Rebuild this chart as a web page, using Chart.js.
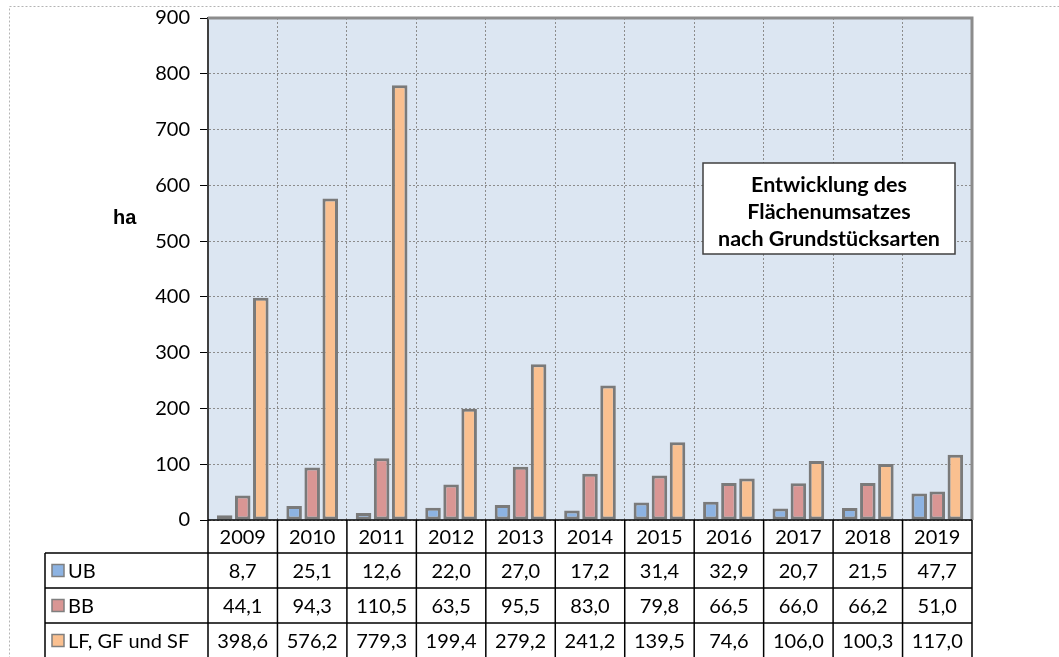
<!DOCTYPE html>
<html>
<head>
<meta charset="utf-8">
<script src="https://cdn.jsdelivr.net/npm/chart.js@4.4.1/dist/chart.umd.min.js"></script>
<style>
  body { margin: 0; background: #fff; }
  #wrap { width: 1059px; height: 657px; }
</style>
</head>
<body>
<div id="wrap"><canvas id="mycanvas" width="1059" height="657"></canvas></div>
<script>
// Flächenumsatz in ha
var years = ['2009', '2010', '2011', '2012', '2013', '2014', '2015', '2016', '2017', '2018', '2019'];
var ub = [8.7, 25.1, 12.6, 22.0, 27.0, 17.2, 31.4, 32.9, 20.7, 21.5, 47.7];
var bb = [44.1, 94.3, 110.5, 63.5, 95.5, 83.0, 79.8, 66.5, 66.0, 66.2, 51.0];
var lf = [398.6, 576.2, 779.3, 199.4, 279.2, 241.2, 139.5, 74.6, 106.0, 100.3, 117.0];
var seriesNames = ['UB', 'BB', 'LF, GF und SF'];
var seriesColors = ['#8db3e2', '#d99694', '#fac090'];
var yMax = 900;
var yStep = 100;
var titleLines = ['Entwicklung des', 'Flächenumsatzes', 'nach Grundstücksarten'];
var unitLabel = 'ha';

Chart.defaults.font.family = 'Lato';

function fmt(v) {
    return v.toFixed(1).replace('.', ',');
}

var bgPlugin = {
    id: 'bg',
    beforeDraw: function(chart) {
        var c = chart.ctx, a = chart.chartArea;
        c.save();
        // dotted outer frame
        c.strokeStyle = '#b4b4b4';
        c.lineWidth = 1;
        c.setLineDash([2, 2]);
        c.strokeRect(9.5, 6.5, 1060, 700);
        c.setLineDash([]);
        c.fillStyle = '#dce6f2';
        c.fillRect(a.left, a.top, a.right - a.left, a.bottom - a.top);
        c.restore();
    },
    afterDraw: function(chart) {
        var c = chart.ctx, a = chart.chartArea;
        var n = years.length;
        var cw = (a.right - a.left) / n;
        var rows = [a.bottom, 553, 588, 623, 658];
        var legLeft = 45;
        c.save();

        // top and right plot border
        c.strokeStyle = '#8c8c8c';
        c.lineWidth = 3;
        c.beginPath();
        c.moveTo(a.left, a.top);
        c.lineTo(a.right, a.top);
        c.lineTo(a.right, a.bottom);
        c.stroke();

        // data table lines
        c.strokeStyle = '#000';
        c.lineWidth = 1.5;
        c.beginPath();
        c.moveTo(a.left, a.bottom);
        c.lineTo(a.right, a.bottom);
        for (var r = 1; r < rows.length; r++) {
            c.moveTo(legLeft, rows[r]);
            c.lineTo(a.right, rows[r]);
        }
        for (var i = 0; i <= n; i++) {
            var x = a.left + i * cw;
            c.moveTo(x, a.bottom);
            c.lineTo(x, rows[rows.length - 1]);
        }
        c.moveTo(legLeft, rows[1]);
        c.lineTo(legLeft, rows[rows.length - 1]);
        c.stroke();

        // table text
        c.fillStyle = '#000';
        c.font = '20px Lato';
        c.textAlign = 'center';
        c.textBaseline = 'middle';
        var series = [ub, bb, lf];
        for (var i = 0; i < n; i++) {
            var cx = chart.scales.x.getPixelForValue(i);
            c.fillText(years[i], cx, (rows[0] + rows[1]) / 2 + 1);
            for (var s = 0; s < series.length; s++) {
                c.fillText(fmt(series[s][i]), cx, (rows[s + 1] + rows[s + 2]) / 2 + 1);
            }
        }

        // legend keys
        c.textAlign = 'left';
        for (var s = 0; s < seriesNames.length; s++) {
            var cy = (rows[s + 1] + rows[s + 2]) / 2;
            c.fillStyle = seriesColors[s];
            c.fillRect(52, cy - 6, 12, 12);
            c.strokeStyle = '#7f7f7f';
            c.lineWidth = 1.5;
            c.strokeRect(52, cy - 6, 12, 12);
            c.fillStyle = '#000';
            c.fillText(seriesNames[s], 68, cy + 1);
        }

        // unit label
        c.font = 'bold 20px "Liberation Sans", Arial';
        c.fillText(unitLabel, 113, 218);

        // title box
        var bx = 703, by = 163, bw = 252, bh = 91;
        c.fillStyle = '#fff';
        c.fillRect(bx, by, bw, bh);
        c.strokeStyle = '#404040';
        c.lineWidth = 1.5;
        c.strokeRect(bx, by, bw, bh);
        c.fillStyle = '#000';
        c.font = 'bold 21.5px Lato';
        c.textAlign = 'center';
        for (var l = 0; l < titleLines.length; l++) {
            c.fillText(titleLines[l], bx + bw / 2, by + 22 + l * 27);
        }
        c.restore();
    }
};

var chartdata = {
    labels: years,
    datasets: [
        { label: seriesNames[0], data: ub, backgroundColor: seriesColors[0] },
        { label: seriesNames[1], data: bb, backgroundColor: seriesColors[1] },
        { label: seriesNames[2], data: lf, backgroundColor: seriesColors[2] }
    ]
};

var ctx = document.getElementById('mycanvas');

var barGraph = new Chart(ctx, {
    type: 'bar',
    data: chartdata,
    options: {
        responsive: false,
        animation: false,
        datasets: {
            bar: {
                borderColor: '#7a7a7a',
                borderWidth: 3,
                borderSkipped: false,
                categoryPercentage: 0.78,
                barPercentage: 0.86
            }
        },
        layout: { padding: { left: 0, top: 18, right: 87, bottom: 0 } },
        plugins: {
            legend: { display: false },
            tooltip: { enabled: false }
        },
        scales: {
            x: {
                ticks: { display: false },
                grid: {
                    color: '#8c8c8c',
                    drawTicks: false,
                    offset: true
                },
                border: { display: false, dash: [2, 2] },
                afterFit: function(scale) { scale.height = 137; }
            },
            y: {
                min: 0,
                max: yMax,
                ticks: {
                    stepSize: yStep,
                    color: '#000',
                    font: { size: 20, lineHeight: 0.5 },
                    padding: 10
                },
                grid: {
                    color: '#8c8c8c',
                    tickColor: '#000',
                    tickBorderDash: [],
                    tickLength: 8
                },
                border: { color: '#404040', width: 2, dash: [2, 2] },
                afterFit: function(scale) { scale.width = 208; }
            }
        }
    },
    plugins: [bgPlugin]
});
</script>
</body>
</html>
